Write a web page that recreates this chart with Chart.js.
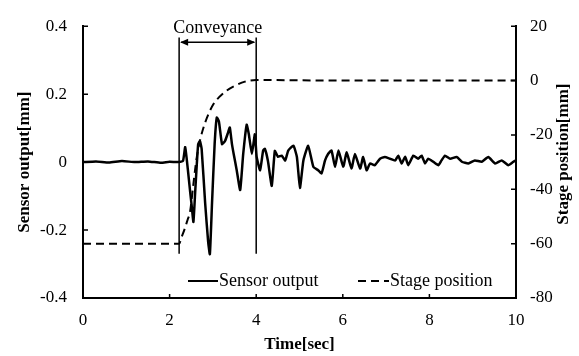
<!DOCTYPE html>
<html>
<head>
<meta charset="utf-8">
<script src="https://cdn.jsdelivr.net/npm/chart.js@4.4.1/dist/chart.umd.min.js"></script>
<style>
  body { margin: 0; background: #fff; }
</style>
</head>
<body>
<canvas id="chart" width="579" height="356"></canvas>
<script>
// sensor output [mm]
const sensorTime = [0, 0.3, 0.6, 0.9, 1.2, 1.5, 1.8, 2.0, 2.2, 2.31, 2.36, 2.42, 2.47, 2.51, 2.55, 2.59, 2.62, 2.66, 2.70, 2.74,
  2.82, 2.89, 2.93, 2.98, 3.04, 3.09, 3.14, 3.21, 3.28, 3.35, 3.39, 3.44, 3.48, 3.55, 3.63, 3.70, 3.78, 3.83, 3.90, 3.97,
  4.01, 4.09, 4.16, 4.20, 4.27, 4.36, 4.43, 4.50, 4.59, 4.67, 4.74, 4.86, 4.94, 5.01, 5.09, 5.20, 5.32, 5.43, 5.51, 5.59,
  5.66, 5.74, 5.82, 5.90, 6.01, 6.09, 6.20, 6.28, 6.40, 6.47, 6.55, 6.63, 6.74, 6.86, 6.97, 7.09, 7.21, 7.28, 7.36, 7.44,
  7.51, 7.63, 7.74, 7.82, 7.90, 7.97, 8.09, 8.21, 8.28, 8.36, 8.48, 8.63, 8.75, 8.90, 9.05, 9.21, 9.36, 9.52, 9.67, 9.82,
  9.94, 10.0];
const sensorValue = [0, 0.002, -0.001, 0.003, 0.0, 0.002, -0.002, 0.001, 0.0, 0.004, 0.044, -0.02, -0.082, -0.128, -0.176, -0.09, -0.024, 0.053, 0.062, 0.039,
  -0.119, -0.234, -0.271, -0.12, 0.053, 0.131, 0.119, 0.053, 0.062, 0.087, 0.102, 0.053, 0.024, -0.024, -0.082, 0.024, 0.110, 0.082, 0.024, 0.082,
  0.016, -0.024, 0.034, 0.039, 0.004, -0.070, 0.033, 0.016, 0.019, 0.005, 0.034, 0.048, 0.015, -0.076, 0.005, 0.048, -0.014, -0.024, -0.033, 0.005,
  0.024, 0.034, -0.014, 0.034, -0.014, 0.029, -0.019, 0.024, -0.019, 0.015, -0.024, -0.004, -0.009, 0.010, 0.015, 0.010, 0.005, 0.019, -0.004, 0.016,
  -0.009, 0.019, 0.010, 0.019, -0.004, 0.010, 0.001, -0.009, 0.005, 0.019, 0.010, 0.015, 0.001, -0.004, 0.005, 0.001, 0.015, -0.004, 0.005, -0.009,
  0.001, 0.005];

// stage position [mm]
const stageTime = [0, 2.22, 2.28, 2.35, 2.42, 2.47, 2.55, 2.62, 2.70, 2.82, 3.0, 3.15, 3.32, 3.5, 3.74, 4.0, 6, 8, 10];
const stageValue = [-60, -60, -57.5, -54.5, -51, -48.5, -38, -29, -22.2, -15.5, -9, -6, -3.7, -2, -0.4, 0.2, 0, 0, 0];

// conveyance interval (sec) and marker heights on the left scale
const conveyStart = 2.22;
const conveyEnd = 4.0;
const markerTop = 0.367;
const markerBottom = -0.27;
const arrowLevel = 0.353;
const labelLevel = 0.395;

const serif = "'Liberation Serif', 'DejaVu Serif', serif";
Chart.defaults.font.family = serif;
Chart.defaults.color = '#000';

function toPoints(xs, ys) {
  return xs.map((t, i) => ({ x: t, y: ys[i] }));
}

const decorations = {
  id: 'decorations',
  afterDraw(chart) {
    const { ctx, chartArea: a, scales: { x, y, y2 } } = chart;
    ctx.save();
    ctx.strokeStyle = '#000';
    ctx.fillStyle = '#000';

    // inward tick marks
    ctx.lineWidth = 1.5;
    ctx.beginPath();
    x.ticks.forEach(t => {
      const px = x.getPixelForValue(t.value);
      ctx.moveTo(px, a.bottom);
      ctx.lineTo(px, a.bottom - 4);
    });
    y.ticks.forEach(t => {
      const py = y.getPixelForValue(t.value);
      ctx.moveTo(a.left, py);
      ctx.lineTo(a.left + 5, py);
    });
    y2.ticks.forEach(t => {
      const py = y2.getPixelForValue(t.value);
      ctx.moveTo(a.right, py);
      ctx.lineTo(a.right - 5, py);
    });
    ctx.stroke();

    // conveyance markers
    const x1 = x.getPixelForValue(conveyStart);
    const x2 = x.getPixelForValue(conveyEnd);
    const yt = y.getPixelForValue(markerTop);
    const yb = y.getPixelForValue(markerBottom);
    const ya = y.getPixelForValue(arrowLevel);
    ctx.lineWidth = 1.5;
    ctx.beginPath();
    ctx.moveTo(x1, yt); ctx.lineTo(x1, yb);
    ctx.moveTo(x2, yt); ctx.lineTo(x2, yb);
    ctx.moveTo(x1 + 2, ya); ctx.lineTo(x2 - 2, ya);
    ctx.stroke();
    ctx.beginPath();
    ctx.moveTo(x1 + 1, ya); ctx.lineTo(x1 + 9, ya - 3.5); ctx.lineTo(x1 + 9, ya + 3.5); ctx.closePath();
    ctx.moveTo(x2 - 1, ya); ctx.lineTo(x2 - 9, ya - 3.5); ctx.lineTo(x2 - 9, ya + 3.5); ctx.closePath();
    ctx.fill();

    ctx.font = '18px ' + serif;
    ctx.textAlign = 'center';
    ctx.textBaseline = 'middle';
    ctx.fillText('Conveyance', (x1 + x2) / 2, y.getPixelForValue(labelLevel));

    // legend inside the plot
    const ly = a.bottom - 17;
    const ds = chart.data.datasets;
    ctx.textAlign = 'left';
    ctx.lineWidth = 2;
    ctx.beginPath();
    ctx.moveTo(a.left + 105, ly); ctx.lineTo(a.left + 135, ly);
    ctx.stroke();
    ctx.fillText(ds[0].label, a.left + 136, ly);
    ctx.setLineDash([8, 5]);
    ctx.beginPath();
    ctx.moveTo(a.left + 275, ly); ctx.lineTo(a.left + 306, ly);
    ctx.stroke();
    ctx.setLineDash([]);
    ctx.fillText(ds[1].label, a.left + 307, ly);

    // axis titles
    ctx.font = 'bold 17px ' + serif;
    ctx.textAlign = 'center';
    ctx.fillText('Time[sec]', (a.left + a.right) / 2, 345);
    ctx.save();
    ctx.translate(25, (a.top + a.bottom) / 2);
    ctx.rotate(-Math.PI / 2);
    ctx.fillText('Sensor output[mm]', 0, 0);
    ctx.restore();
    ctx.save();
    ctx.translate(564, (a.top + a.bottom) / 2 - 8);
    ctx.rotate(-Math.PI / 2);
    ctx.fillText('Stage position[mm]', 0, 0);
    ctx.restore();

    ctx.restore();
  }
};

const axisLook = {
  grid: { display: true, drawOnChartArea: false, drawTicks: false },
  border: { display: true, color: '#000', width: 2 },
};

new Chart(document.getElementById('chart'), {
  type: 'line',
  data: {
    datasets: [{
      label: 'Sensor output',
      data: toPoints(sensorTime, sensorValue),
      yAxisID: 'y',
      borderColor: '#000',
      borderWidth: 2.5,
      pointRadius: 0,
      tension: 0.15
    }, {
      label: 'Stage position',
      data: toPoints(stageTime, stageValue),
      yAxisID: 'y2',
      borderColor: '#000',
      borderWidth: 2,
      borderDash: [8, 5],
      pointRadius: 0,
      cubicInterpolationMode: 'monotone'
    }]
  },
  options: {
    responsive: false,
    animation: false,
    layout: { padding: { top: 19, left: 0, right: 0, bottom: 0 } },
    plugins: { legend: { display: false }, tooltip: { enabled: false } },
    scales: {
      x: {
        type: 'linear',
        min: 0, max: 10,
        ...axisLook,
        ticks: { stepSize: 2, color: '#000', padding: 12, font: { family: serif, size: 17 } },
        afterFit: s => { s.height = 58; }
      },
      y: {
        position: 'left',
        min: -0.4, max: 0.4,
        ...axisLook,
        ticks: { stepSize: 0.2, color: '#000', padding: 16, font: { family: serif, size: 17 } },
        afterFit: s => { s.width = 83; }
      },
      y2: {
        position: 'right',
        min: -80, max: 20,
        ...axisLook,
        ticks: { stepSize: 20, color: '#000', padding: 14, font: { family: serif, size: 17 } },
        afterFit: s => { s.width = 63; }
      }
    }
  },
  plugins: [decorations]
});
</script>
</body>
</html>
